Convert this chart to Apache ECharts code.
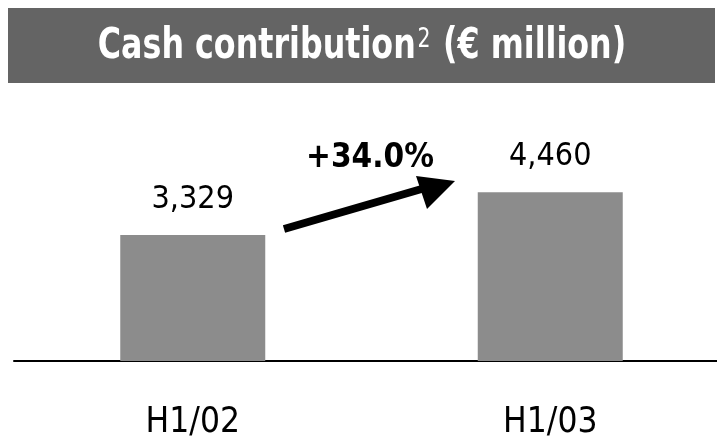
<!DOCTYPE html>
<html>
<head>
<meta charset="utf-8">
<script src="https://cdn.jsdelivr.net/npm/echarts@6/dist/echarts.min.js"></script>
<style>
  html, body { margin: 0; padding: 0; background: #fff; }
  #main { width: 717px; height: 439px; }
</style>
</head>
<body>
<div id="main"></div>
<script>
'use strict';

// chart data
var categories = ['H1/02', 'H1/03'];
var cashValues = [3329, 4460];
var changeLabel = '+34.0%';

var FONT = '"DejaVu Sans Condensed", "Liberation Sans", sans-serif';

var myChart = echarts.init(document.getElementById('main'));

function fmt(v) {
  return v.toString().replace(/\B(?=(\d{3})+(?!\d))/g, ',');
}

var option = {
  animation: false,
  backgroundColor: '#fff',
  grid: { left: 14, top: 96, width: 715, bottom: 78, outerBoundsMode: 'none', containLabel: false },
  xAxis: {
    type: 'category',
    data: categories,
    axisLine: { lineStyle: { color: '#000', width: 2 } },
    axisTick: { show: false },
    axisLabel: {
      margin: 44,
      color: '#000',
      fontFamily: FONT,
      fontSize: 35
    }
  },
  yAxis: {
    type: 'value',
    min: 0,
    max: 7000,
    show: false,
    splitLine: { show: false }
  },
  series: [{
    type: 'bar',
    data: cashValues,
    barWidth: 145,
    itemStyle: { color: '#8c8c8c' },
    label: {
      show: true,
      position: 'top',
      distance: 19,
      color: '#000',
      fontFamily: FONT,
      fontSize: 32,
      formatter: function (p) { return fmt(p.value); }
    }
  }],
  graphic: [
    // title banner
    {
      type: 'rect',
      shape: { x: 8, y: 8, width: 707, height: 75 },
      style: { fill: '#646464' }
    },
    {
      type: 'text',
      x: 362,
      y: 47,
      scaleX: 0.84,
      style: {
        text: '{t|Cash contribution}{s|2}{t| (€ million)}',
        align: 'center',
        verticalAlign: 'middle',
        rich: {
          t: { fill: '#fff', fontFamily: FONT, fontSize: 42, fontWeight: 'bold' },
          s: { fill: '#fff', fontFamily: FONT, fontSize: 27, verticalAlign: 'top', padding: [0, 2, 14, 2] }
        }
      }
    },
    // growth arrow
    {
      type: 'line',
      shape: { x1: 284, y1: 229, x2: 425, y2: 188 },
      style: { stroke: '#000', lineWidth: 8 }
    },
    {
      type: 'polygon',
      shape: { points: [[416, 176], [455, 181], [427, 209]] },
      style: { fill: '#000' }
    },
    {
      type: 'text',
      x: 370,
      y: 158,
      style: {
        text: changeLabel,
        align: 'center',
        verticalAlign: 'middle',
        fill: '#000',
        fontFamily: FONT,
        fontSize: 33,
        fontWeight: 'bold'
      }
    }
  ]
};

myChart.setOption(option);
</script>
</body>
</html>
